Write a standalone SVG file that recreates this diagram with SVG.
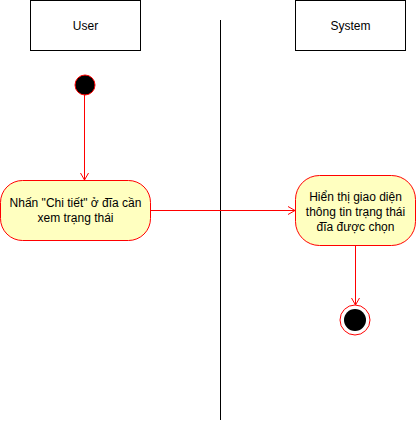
<svg xmlns="http://www.w3.org/2000/svg" width="416" height="422" viewBox="0 0 416 422">
<style>
text{font-family:"Liberation Sans",Arial,sans-serif;font-size:12px;fill:#000;text-anchor:middle;}
.lane{fill:#fff;stroke:#000;stroke-width:1;}
.act{fill:#ffffc0;stroke:#ff0000;stroke-width:1;}
.edge{fill:none;stroke:#ff0000;stroke-width:1;}
</style>
<defs>
<marker id="arr" markerWidth="10" markerHeight="10" refX="8" refY="5" orient="auto" markerUnits="userSpaceOnUse">
<path d="M1,1 L8,5 L1,9" fill="none" stroke="#ff0000" stroke-width="1"/>
</marker>
</defs>
<rect width="416" height="422" fill="#fff"/>
<g id="lane-user"><rect class="lane" x="30.5" y="0.5" width="110" height="50"/><text x="85.5" y="29.5">User</text></g>
<g id="lane-system"><rect class="lane" x="295.5" y="0.5" width="110" height="50"/><text x="350.5" y="29.5">System</text></g>
<g id="divider"><line x1="220.5" y1="20" x2="220.5" y2="420" stroke="#000" stroke-width="1"/></g>
<g id="start"><circle cx="85" cy="85" r="10" fill="#000" stroke="#ff0000" stroke-width="1"/></g>
<g id="act1"><rect class="act" x="0.5" y="180.5" width="150" height="60" rx="22" ry="22"/>
<text x="75.5" y="207">Nhấn "Chi tiết" ở đĩa cần</text><text x="75.5" y="222">xem trạng thái</text></g>
<g id="act2"><rect class="act" x="295.5" y="175.5" width="120" height="70" rx="24" ry="24"/>
<text x="355.5" y="201">Hiển thị giao diện</text><text x="355.5" y="216">thông tin trạng thái</text><text x="355.5" y="231">đĩa được chọn</text></g>
<g id="end"><circle cx="355" cy="320" r="15" fill="#fff" stroke="#ff0000" stroke-width="1"/><circle cx="355" cy="320" r="11" fill="#000"/></g>
<g id="connectors">
<line class="edge" x1="84.5" y1="95" x2="84.5" y2="180" marker-end="url(#arr)"/>
<line class="edge" x1="150.5" y1="210.5" x2="295" y2="210.5" marker-end="url(#arr)"/>
<line class="edge" x1="355.5" y1="245.5" x2="355.5" y2="305" marker-end="url(#arr)"/>
</g>
</svg>
